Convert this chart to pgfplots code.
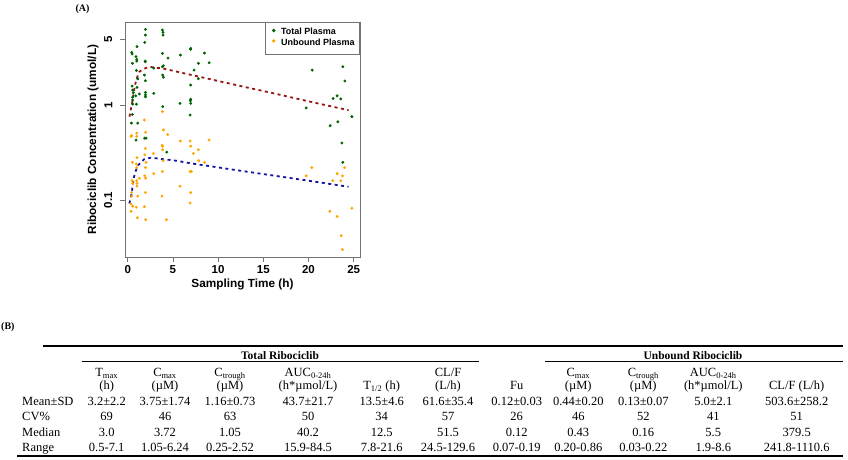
\documentclass[border=0pt]{standalone}
\usepackage{pgfplots}
\pgfplotsset{compat=1.18}
\usepackage{fontspec}
\setmainfont{Liberation Serif}
\newfontfamily\arial{Liberation Sans}
\definecolor{dgreen}{RGB}{0,100,0}
\definecolor{orng}{RGB}{255,165,0}
\definecolor{dred}{RGB}{150,20,20}
\definecolor{dblue}{RGB}{20,20,160}
\newcommand\cell{\fontsize{12.5}{14}\selectfont}
\newcommand\sub[1]{\textsubscript{\fontsize{8.5}{9}\selectfont #1}}
\begin{document}
\begin{tikzpicture}
\useasboundingbox (0pt,0pt) rectangle (848pt,460pt);
\begin{axis}[
  at={(125pt,203pt)}, anchor=south west, scale only axis,
  width=235pt, height=235pt,
  ymode=log, xmin=-0.3, xmax=25.7, ymin=0.025, ymax=7.6,
  xtick={0,5,10,15,20,25}, xticklabels={0,5,10,15,20,25},
  ytick={0.1,1,5}, yticklabels={0.1,1,5},
  yminorticks=false,
  axis line style={draw=black!55, line width=0.8pt},
  tick style={black!55, line width=0.8pt},
  tick align=outside, major tick length=5pt,
  xtick pos=lower, ytick pos=left,
  tick label style={font=\arial\bfseries\fontsize{11.5}{13}\selectfont},
  yticklabel style={rotate=90, anchor=south, inner ysep=7.5pt},
  xlabel={Sampling Time (h)}, ylabel={Ribociclib Concentration (umol/L)},
  every axis y label/.style={at={(axis description cs:-0.136,0.5)}, rotate=90, anchor=center, font=\arial\bfseries\fontsize{11.8}{13}\selectfont},
  every axis x label/.style={at={(axis description cs:0.5,-0.119)}, anchor=center, font=\arial\bfseries\fontsize{11.8}{13}\selectfont},
  legend style={at={(1,1)}, anchor=north east, draw=black!55, line width=0.8pt,
    inner xsep=2.6pt, inner ysep=5.4pt,
    font=\arial\bfseries\fontsize{9}{10}\selectfont,
    nodes={inner xsep=2.4pt, inner ysep=0pt, text height=7.2pt, text depth=3.2pt}},
  legend cell align=left,
  legend image code/.code={\path (0pt,0pt) -- (11pt,0pt); \draw[#1] plot coordinates {(6pt,2.5pt)};},
]
\addplot[only marks, mark=*, mark size=1.25pt, draw=none, mark options={draw=dgreen, fill=dgreen}] coordinates {
(0.44,3.63)(0.48,3.49)(0.52,2.78)(0.48,1.60)(0.55,1.45)(0.63,1.36)(0.55,1.22)(0.55,1.14)(0.55,1.03)(0.52,0.80)(0.41,0.65)
(1.03,4.17)(0.92,3.27)(1.00,3.06)(1.00,2.94)(0.96,2.34)(1.11,1.91)(1.03,1.55)(0.89,1.26)(0.96,1.03)(1.11,0.65)(0.92,0.43)(1.29,1.32)
(1.96,6.35)(1.96,5.53)(1.88,4.63)(1.92,2.94)(1.96,2.89)(1.85,2.09)(1.96,1.82)(1.96,1.37)(1.96,1.29)(1.96,1.23)(1.88,0.45)(2.03,0.45)
(2.88,2.48)(2.88,1.34)
(3.84,6.25)(3.91,5.90)(3.91,5.53)(3.84,3.54)(3.95,2.62)(3.84,2.56)(3.87,2.09)(3.95,1.98)(3.87,0.97)
(4.46,3.16)(4.32,0.32)
(5.83,3.40)(5.79,1.05)
(6.94,3.91)(6.97,4.00)(6.97,1.64)(6.97,1.16)(6.94,1.12)(6.97,1.05)(6.90,0.79)
(7.34,2.36)(7.82,2.78)(7.82,1.91)(8.49,3.57)(9.00,2.82)
(19.74,0.94)(20.41,2.36)(22.40,0.61)(22.73,1.18)(23.17,1.26)(23.25,0.67)(23.58,1.17)
(23.80,2.56)(23.69,0.40)(23.80,0.25)(24.02,1.81)(24.80,0.76)
};
\addlegendentry{Total Plasma}
\addplot[only marks, mark=*, mark size=1.25pt, draw=none, mark options={draw=orng, fill=orng}] coordinates {
(0.44,0.48)(0.37,0.47)(0.52,0.25)(0.48,0.16)(0.55,0.15)(0.44,0.11)(0.37,0.091)(0.55,0.086)(0.37,0.076)(0.44,0.12)
(1.00,0.51)(1.00,0.47)(1.03,0.28)(0.96,0.24)(1.00,0.22)(1.00,0.16)(1.03,0.15)(1.03,0.14)(1.11,0.11)(0.96,0.084)(1.07,0.065)(1.29,0.17)
(1.85,0.70)(1.99,0.52)(1.96,0.35)(1.88,0.30)(1.96,0.22)(2.03,0.25)(1.88,0.18)(1.99,0.17)(1.96,0.12)(1.85,0.085)(1.99,0.062)
(2.84,0.31)(2.88,0.19)
(3.84,0.86)(3.95,0.55)(3.80,0.38)(3.87,0.37)(3.87,0.34)(3.91,0.26)(3.84,0.20)(3.80,0.11)
(4.43,0.49)(4.28,0.062)(5.83,0.42)(5.79,0.14)
(6.90,0.42)(6.97,0.37)(6.90,0.20)(7.05,0.20)(6.97,0.12)(6.90,0.093)
(7.27,0.31)(7.82,0.34)(7.86,0.26)(8.49,0.25)(9.00,0.43)
(19.74,0.18)(20.37,0.22)(22.36,0.076)(22.69,0.16)(23.17,0.19)(23.17,0.067)(23.58,0.16)(23.62,0.042)
(23.76,0.18)(23.76,0.030)(23.99,0.22)(24.80,0.082)
};
\addlegendentry{Unbound Plasma}
\addplot[dred, line width=1.8pt, dash pattern=on 3pt off 3.5pt, forget plot] coordinates {
(0.2,0.76)(0.37,0.93)(0.51,1.09)(0.62,1.29)(0.81,1.64)(1.0,1.93)(1.28,2.26)(1.66,2.40)(2.39,2.56)(3.02,2.50)(3.87,2.46)
(5,2.32)(7,2.10)(10,1.81)(13,1.56)(16,1.35)(19,1.16)(22,1.00)(24.43,0.89)
};
\addplot[dblue, line width=1.8pt, dash pattern=on 3pt off 3.5pt, forget plot] coordinates {
(0.18,0.092)(0.33,0.104)(0.44,0.118)(0.51,0.133)(0.62,0.156)(0.70,0.176)(0.92,0.207)(1.17,0.234)(1.80,0.269)(2.55,0.280)(3.28,0.275)
(4.02,0.269)(4.87,0.264)(5.60,0.258)(6.35,0.250)(8,0.236)(12,0.207)(16,0.182)(20,0.160)(24.43,0.138)
};
\end{axis}
% panel labels
\node[anchor=center, font=\bfseries\fontsize{10}{12}\selectfont] at (82.5pt,451pt) {(A)};
\node[anchor=west, inner sep=0pt, font=\bfseries\fontsize{10}{12}\selectfont] at (1pt,133pt) {(B)};
% table rules
\draw[line width=1.5pt] (43pt,114pt) -- (843pt,114pt);
\draw[line width=0.8pt] (82pt,98.3pt) -- (479pt,98.3pt);
\draw[line width=0.8pt] (545pt,98.3pt) -- (843pt,98.3pt);
\draw[line width=1.5pt] (17pt,4pt) -- (843pt,4pt);
% group titles
\node[anchor=base, font=\bfseries\fontsize{11.5}{13}\selectfont] at (280pt,100.7pt) {Total Ribociclib};
\node[anchor=base, font=\bfseries\fontsize{11.5}{13}\selectfont] at (693pt,100.7pt) {Unbound Ribociclib};
% header line 1
\foreach \x/\t in {106.7/{T\sub{max}}, 165/{C\sub{max}}, 230/{C\sub{trough}}, 308/{AUC\sub{0-24h}}, 448/{CL/F}, 578.3/{C\sub{max}}, 643.3/{C\sub{trough}}, 713.3/{AUC\sub{0-24h}}}
  \node[anchor=base, font=\cell] at (\x pt,83.3pt) {\t};
% header line 2
\foreach \x/\t in {106.7/{(h)}, 165/{(µM)}, 230/{(µM)}, 308/{(h*µmol/L)}, 381.7/{T\sub{1/2} (h)}, 448/{(L/h)}, 516.7/{Fu}, 578.3/{(µM)}, 643.3/{(µM)}, 713.3/{(h*µmol/L)}, 796.7/{CL/F (L/h)}}
  \node[anchor=base, font=\cell] at (\x pt,70pt) {\t};
% row labels
\foreach \y/\t in {54.5/Mean±SD, 39.5/CV\%, 23.5/Median, 8.5/Range}
  \node[anchor=base west, inner sep=0pt, font=\cell] at (22pt,\y pt) {\t};
% rows
\foreach \x/\t in {106.7/3.2±2.2, 165/3.75±1.74, 230/1.16±0.73, 308/43.7±21.7, 381.7/13.5±4.6, 448/61.6±35.4, 516.7/0.12±0.03, 578.3/0.44±0.20, 643.3/0.13±0.07, 713.3/5.0±2.1, 796.7/503.6±258.2}
  \node[anchor=base, font=\cell] at (\x pt,54.5pt) {\t};
\foreach \x/\t in {106.7/69, 165/46, 230/63, 308/50, 381.7/34, 448/57, 516.7/26, 578.3/46, 643.3/52, 713.3/41, 796.7/51}
  \node[anchor=base, font=\cell] at (\x pt,39.5pt) {\t};
\foreach \x/\t in {106.7/3.0, 165/3.72, 230/1.05, 308/40.2, 381.7/12.5, 448/51.5, 516.7/0.12, 578.3/0.43, 643.3/0.16, 713.3/5.5, 796.7/379.5}
  \node[anchor=base, font=\cell] at (\x pt,23.5pt) {\t};
\foreach \x/\t in {106.7/0.5-7.1, 165/1.05-6.24, 230/0.25-2.52, 308/15.9-84.5, 381.7/7.8-21.6, 448/24.5-129.6, 516.7/0.07-0.19, 578.3/0.20-0.86, 643.3/0.03-0.22, 713.3/1.9-8.6, 796.7/241.8-1110.6}
  \node[anchor=base, font=\cell] at (\x pt,8.5pt) {\t};
\end{tikzpicture}
\end{document}
